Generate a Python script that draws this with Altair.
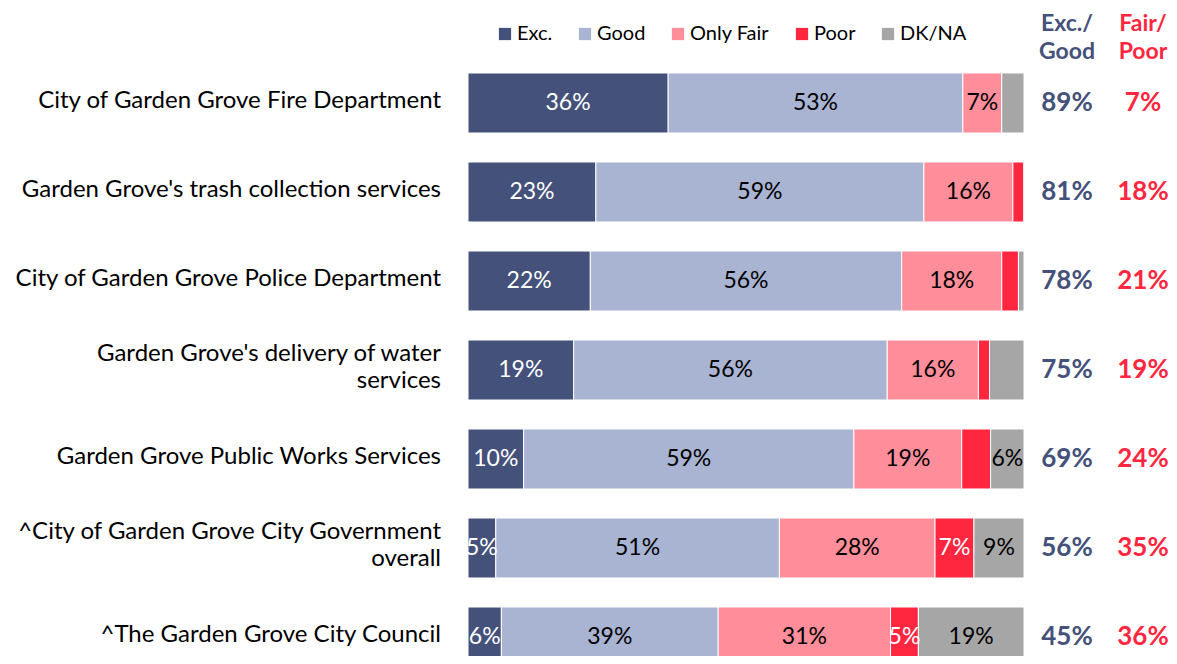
import altair as alt
import pandas as pd

# ---------------- data ----------------
items = [
    "City of Garden Grove Fire Department",
    "Garden Grove's trash collection services",
    "City of Garden Grove Police Department",
    "Garden Grove's delivery of water|services",
    "Garden Grove Public Works Services",
    "^City of Garden Grove City Government|overall",
    "^The Garden Grove City Council",
]
categories = ["Exc.", "Good", "Only Fair", "Poor", "DK/NA"]
exc = [36, 23, 22, 19.0, 10.0, 5, 6]
good = [53, 59, 56, 56.4, 59.4, 51, 39]
only_fair = [7, 16, 18, 16.4, 19.4, 28, 31]
poor = [0, 2, 3, 2.0, 5.2, 7, 5]
dk_na = [4, 0, 1, 6.2, 6.0, 9, 19]
exc_good = [89, 81, 78, 75, 69, 56, 45]
fair_poor = [7, 18, 21, 19, 24, 35, 36]
# which segment values are printed inside the bars (1 = printed)
show_exc = [1, 1, 1, 1, 1, 1, 1]
show_good = [1, 1, 1, 1, 1, 1, 1]
show_fair = [1, 1, 1, 1, 1, 1, 1]
show_poor = [0, 0, 0, 0, 0, 1, 1]
show_dk = [0, 0, 0, 0, 1, 1, 1]
summary_headers = ["Exc./\nGood", "Fair/\nPoor"]

# ---------------- styles ----------------
colors = ["#44517A", "#A9B3D2", "#FF8E9A", "#FF2640", "#A6A6A6"]
white_label_cats = ["Exc.", "Poor"]
FONT = "Lato"
BLUE = "#44517A"
RED = "#FF2640"

series = [exc, good, only_fair, poor, dk_na]
shows = [show_exc, show_good, show_fair, show_poor, show_dk]
rows = []
for ci, cat in enumerate(categories):
    for ii, item in enumerate(items):
        rows.append({
            "item": item,
            "category": cat,
            "order": ci,
            "value": series[ci][ii],
            "show": shows[ci][ii],
            "label": f"{round(series[ci][ii])}%",
            "tone": "white" if cat in white_label_cats else "black",
        })
df = pd.DataFrame(rows)

summ = pd.DataFrame({
    "item": items,
    "name": [s.replace("|", "\n") for s in items],
    "lines": [s.count("|") + 1 for s in items],
    "eg": [f"{v}%" for v in exc_good],
    "fp": [f"{v}%" for v in fair_poor],
})
heads = pd.DataFrame({"h": summary_headers, "col": ["eg", "fp"]})

y_enc = alt.Y(
    "item:N",
    sort=items,
    scale=alt.Scale(paddingInner=0.326, paddingOuter=0, range=[0, 594]),
    axis=None,
)
y_plain = alt.Y("item:N", sort=items)
x_scale = alt.Scale(domain=[0, 100], nice=False)

bars = alt.Chart(df).mark_bar(stroke="white", strokeWidth=1).encode(
    x=alt.X("value:Q", stack="zero", scale=x_scale, axis=None),
    y=y_enc,
    color=alt.Color(
        "category:N",
        scale=alt.Scale(domain=categories, range=colors),
        legend=alt.Legend(
            title=None,
            orient="none",
            legendX=27,
            legendY=-49,
            direction="horizontal",
            symbolType="square",
            symbolSize=150,
            symbolStrokeWidth=0,
            labelFont=FONT,
            labelFontSize=20,
            labelColor="black",
            labelOffset=2,
            columnPadding=22,
            padding=0,
        ),
    ),
    order=alt.Order("order:Q"),
)

stacked = (
    alt.Chart(df)
    .transform_stack(stack="value", as_=["x0", "x1"], groupby=["item"],
                     sort=[alt.SortField("order")])
    .transform_calculate(mid="(datum.x0 + datum.x1) / 2")
    .transform_filter("datum.show == 1")
)

def seg_text(tone):
    return stacked.transform_filter(f"datum.tone == '{tone}'").mark_text(
        font=FONT, fontSize=23, color=tone, clip=True, baseline="middle"
    ).encode(
        x=alt.X("mid:Q", scale=x_scale, axis=None),
        y=y_plain,
        text="label:N",
    )

def row_labels(n, dy):
    return alt.Chart(summ).transform_filter(f"datum.lines == {n}").mark_text(
        font=FONT, fontSize=24, color="black", align="right", baseline="middle",
        lineBreak="\n", lineHeight=27, dy=dy
    ).encode(x=alt.value(-27), y=y_plain, text="name:N")

sum_eg = alt.Chart(summ).mark_text(
    font=FONT, fontSize=26, fontWeight="bold", color=BLUE, baseline="middle"
).encode(x=alt.value(599), y=y_plain, text="eg:N")

sum_fp = alt.Chart(summ).mark_text(
    font=FONT, fontSize=26, fontWeight="bold", color=RED, baseline="middle"
).encode(x=alt.value(675), y=y_plain, text="fp:N")

head_eg = alt.Chart(heads).transform_filter("datum.col == 'eg'").mark_text(
    font=FONT, fontSize=23, fontWeight="bold", color=BLUE, baseline="middle",
    lineBreak="\n", lineHeight=28
).encode(x=alt.value(599), y=alt.value(-49), text="h:N")

head_fp = alt.Chart(heads).transform_filter("datum.col == 'fp'").mark_text(
    font=FONT, fontSize=23, fontWeight="bold", color=RED, baseline="middle",
    lineBreak="\n", lineHeight=28
).encode(x=alt.value(675), y=alt.value(-49), text="h:N")

chart = alt.layer(
    bars, seg_text("white"), seg_text("black"),
    row_labels(1, -2), row_labels(2, -16),
    sum_eg, sum_fp, head_eg, head_fp
).properties(
    width=556,
    height=583,
    autosize=alt.AutoSizeParams(type="none"),
    padding={"left": 460, "top": 65, "right": 145, "bottom": 0},
).configure_view(stroke=None)

chart.save("out.html", embed_options={"renderer": "svg", "actions": False})
